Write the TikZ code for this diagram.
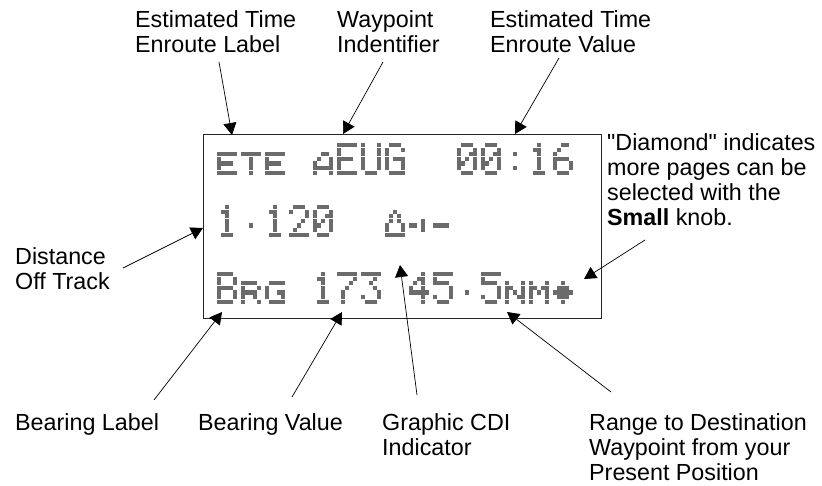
\documentclass[tikz,border=0pt]{standalone}
\usepackage{fontspec}
\setmainfont{Liberation Sans}[Ligatures=TeXOff]
\usetikzlibrary{arrows.meta}
% LCD dot-matrix helpers
\def\pxw{4}\def\pxh{4.6}\def\pxs{3.7}\def\pxt{4.3}
\newcommand\lcdpix[2]{\ifnum#2=1 \fill[lcdpixel] ({\lcdx+#1*\pxw},{\lcdy+\ri*\pxh}) rectangle ++(\pxs,\pxt);\fi}
\newcommand\lcdbits[5]{\lcdpix{0}{#1}\lcdpix{1}{#2}\lcdpix{2}{#3}\lcdpix{3}{#4}\lcdpix{4}{#5}}
\newcommand\lcdglyph[3]{\pgfmathsetmacro\lcdx{217+24*#1}\def\lcdy{#2}%
  \foreach \rb [count=\ri from 0] in #3 {\expandafter\lcdbits\rb}}
% glyphs, 7 rows of 5 columns
\def\gZero{01110,10001,10011,10101,11001,10001,01110}
\def\gOne{00100,01100,00100,00100,00100,00100,01110}
\def\gTwo{01110,10001,00001,00010,00100,01000,11111}
\def\gThree{11111,00010,00100,00010,00001,10001,01110}
\def\gFour{00010,00110,01010,10010,11111,00010,00010}
\def\gFive{11111,10000,11110,00001,00001,10001,01110}
\def\gSix{00110,01000,10000,11110,10001,10001,01110}
\def\gSeven{11111,00001,00010,00100,01000,01000,01000}
\def\gColon{00000,00000,00100,00000,00000,00100,00000}
\def\gDot{00000,00000,00000,00000,00100,00000,00000}
\def\gB{11110,10001,10001,11110,10001,10001,11110}
\def\gE{11111,10000,10000,11110,10000,10000,11111}
\def\gU{10001,10001,10001,10001,10001,10001,01110}
\def\gG{01110,10001,10000,10111,10001,10001,01111}
\def\gsE{00000,00000,11111,10000,11110,10000,11111}
\def\gsT{00000,00000,11111,00100,00100,00100,00100}
\def\gsA{00000,00000,00110,01001,10001,11111,10001}
\def\gsR{00000,00000,11110,10001,11110,10010,10001}
\def\gsG{00000,00000,01111,10000,10011,10001,01111}
\def\gsN{00000,00000,10001,11001,10101,10011,10001}
\def\gsM{00000,00000,10001,11011,10101,10001,10001}
\def\gDiamond{00000,00000,00100,01110,11111,01110,00100}
\def\gTri{00000,00100,01010,01010,10001,10001,11111}
\def\gBarA{00000,00000,00000,00010,11010,00010,00000}
\def\gBarB{00000,00000,00000,00000,11110,00000,00000}
\begin{document}
\begin{tikzpicture}[x=1pt,y=-1pt,
  lcdpixel/.style={fill=black!58},
  lcdframe/.style={draw=black!85,line width=1.1pt},
  lbl/.style={anchor=north west,inner sep=0pt,align=left,font=\fontsize{23.3}{25.3}\selectfont},
  ptr/.style={-{Triangle[length=12pt,width=13pt]},line width=0.7pt}]
\useasboundingbox (0,0) rectangle (822,486);
\fill[white] (0,0) rectangle (822,486);
% LCD frame
\node[lcdframe,anchor=north west,minimum width=398pt,minimum height=184pt,inner sep=0pt] (lcd) at (203,134) {};
% row 1: ETE aEUG  00:16
\lcdglyph{0}{143}{\gsE}\lcdglyph{1}{143}{\gsT}\lcdglyph{2}{143}{\gsE}
\lcdglyph{4}{143}{\gsA}\lcdglyph{5}{143}{\gE}\lcdglyph{6}{143}{\gU}\lcdglyph{7}{143}{\gG}
\lcdglyph{10}{143}{\gZero}\lcdglyph{11}{143}{\gZero}\lcdglyph{12}{143}{\gColon}\lcdglyph{13}{143}{\gOne}\lcdglyph{14}{143}{\gSix}
% row 2: 1.120  CDI
\lcdglyph{0}{205}{\gOne}\lcdglyph{1}{205}{\gDot}\lcdglyph{2}{205}{\gOne}\lcdglyph{3}{205}{\gTwo}\lcdglyph{4}{205}{\gZero}
\lcdglyph{7}{205}{\gTri}\lcdglyph{8}{205}{\gBarA}\lcdglyph{9}{205}{\gBarB}
% row 3: Brg 173 45.5NM diamond
\lcdglyph{0}{272}{\gB}\lcdglyph{1}{272}{\gsR}\lcdglyph{2}{272}{\gsG}
\lcdglyph{4}{272}{\gOne}\lcdglyph{5}{272}{\gSeven}\lcdglyph{6}{272}{\gThree}
\lcdglyph{8}{272}{\gFour}\lcdglyph{9}{272}{\gFive}\lcdglyph{10}{272}{\gDot}\lcdglyph{11}{272}{\gFive}
\lcdglyph{12}{272}{\gsN}\lcdglyph{13}{272}{\gsM}\lcdglyph{14}{272}{\gDiamond}
% labels
\node[lbl] (eteL) at (135,10) {Estimated Time\\Enroute Label};
\node[lbl] (wpt) at (337,10) {Waypoint\\Indentifier};
\node[lbl] (eteV) at (490,10) {Estimated Time\\Enroute Value};
\node[lbl] (diam) at (607,133) {"Diamond" indicates\\more pages can be\\selected with the\\\textbf{Small} knob.};
\node[lbl] (dist) at (15,247) {Distance\\Off Track};
\node[lbl] (brgL) at (15,413) {Bearing Label};
\node[lbl] (brgV) at (198,413) {Bearing Value};
\node[lbl] (cdi) at (382,413) {Graphic CDI\\Indicator};
\node[lbl] (rng) at (589,413) {Range to Destination\\Waypoint from your\\Present Position};
% connector ends
\coordinate (eteLs) at (219,62);  \coordinate (eteLt) at (232,135);
\coordinate (wpts) at (383,62);   \coordinate (wptt) at (343,134);
\coordinate (eteVs) at (559,58);  \coordinate (eteVt) at (515,134);
\coordinate (diams) at (645,240); \coordinate (diamt) at (584,279);
\coordinate (dists) at (123,268); \coordinate (distt) at (203,228);
\coordinate (brgLs) at (154,400); \coordinate (brgLt) at (222,312);
\coordinate (brgVs) at (292,397); \coordinate (brgVt) at (342,312);
\coordinate (cdis) at (417,395);  \coordinate (cdit) at (400,265);
\coordinate (rngs) at (611,392);  \coordinate (rngt) at (507,312);
\draw[ptr] (eteLs) -- (eteLt);
\draw[ptr] (wpts) -- (wptt);
\draw[ptr] (eteVs) -- (eteVt);
\draw[ptr] (diams) -- (diamt);
\draw[ptr] (dists) -- (distt);
\draw[ptr] (brgLs) -- (brgLt);
\draw[ptr] (brgVs) -- (brgVt);
\draw[ptr] (cdis) -- (cdit);
\draw[ptr] (rngs) -- (rngt);
\end{tikzpicture}
\end{document}
